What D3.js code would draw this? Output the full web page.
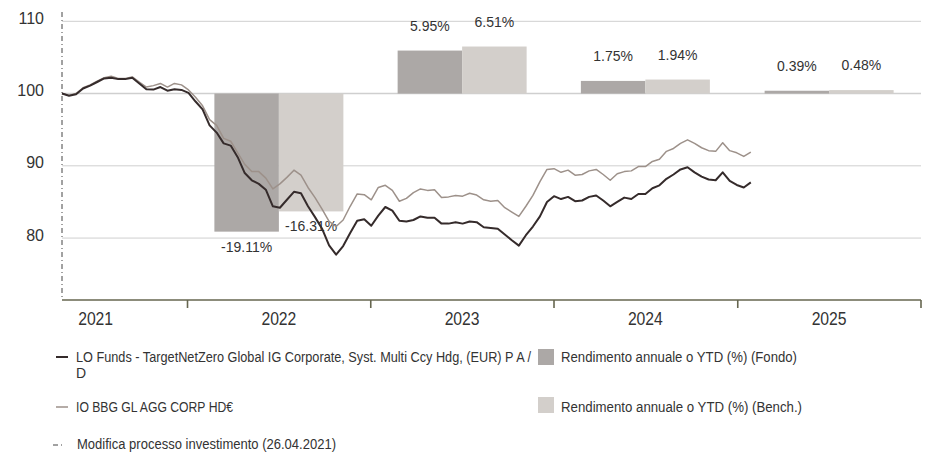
<!DOCTYPE html>
<meta charset="utf-8">
<style>
body { margin: 0; background: #fff; }
svg { display: block; }
text { font-family: "Liberation Sans", Arial, sans-serif; fill: #333; }
.ylab text { font-size: 16px; }
.grid line { stroke: #cfcfcf; stroke-width: 1; }
.xaxis line { stroke: #66664f; stroke-width: 1.6; }
.years text { font-size: 18px; }
.barlab text { font-size: 14px; }
.legend text { font-size: 14px; }
</style>
<body>
<script src="https://cdn.jsdelivr.net/npm/d3@7"></script>
<script>
// serie bisettimanali (base 100 al 26.04.2021)
var dates = [
  '2021-04-26','2021-05-10','2021-05-24','2021-06-07','2021-06-21','2021-07-05','2021-07-19','2021-08-02','2021-08-16','2021-08-30',
  '2021-09-13','2021-09-27','2021-10-11','2021-10-25','2021-11-08','2021-11-22','2021-12-06','2021-12-20','2022-01-03','2022-01-17',
  '2022-01-31','2022-02-14','2022-02-28','2022-03-14','2022-03-28','2022-04-11','2022-04-25','2022-05-09','2022-05-23','2022-06-06',
  '2022-06-20','2022-07-04','2022-07-18','2022-08-01','2022-08-15','2022-08-29','2022-09-12','2022-09-26','2022-10-10','2022-10-24',
  '2022-11-07','2022-11-21','2022-12-05','2022-12-19','2023-01-02','2023-01-16','2023-01-30','2023-02-13','2023-02-27','2023-03-13',
  '2023-03-27','2023-04-10','2023-04-24','2023-05-08','2023-05-22','2023-06-05','2023-06-19','2023-07-03','2023-07-17','2023-07-31',
  '2023-08-14','2023-08-28','2023-09-11','2023-09-25','2023-10-09','2023-10-23','2023-11-06','2023-11-20','2023-12-04','2023-12-18',
  '2024-01-01','2024-01-15','2024-01-29','2024-02-12','2024-02-26','2024-03-11','2024-03-25','2024-04-08','2024-04-22','2024-05-06',
  '2024-05-20','2024-06-03','2024-06-17','2024-07-01','2024-07-15','2024-07-29','2024-08-12','2024-08-26','2024-09-09','2024-09-23',
  '2024-10-07','2024-10-21','2024-11-04','2024-11-18','2024-12-02','2024-12-16','2024-12-30','2025-01-13','2025-01-27'
]

var fondo = [
  100.0, 99.7, 99.9, 100.7, 101.1, 101.6, 102.1, 102.2, 102.0, 102.0,
  102.2, 101.4, 100.6, 100.55, 100.9, 100.4, 100.6, 100.5, 100.1, 98.9,
  97.8, 95.6, 94.6, 93.1, 92.8, 91.2, 89.0, 88.0, 87.5, 86.7,
  84.4, 84.2, 85.3, 86.4, 86.2, 84.4, 82.9, 81.3, 79.0, 77.7,
  78.9, 80.7, 82.4, 82.6, 81.7, 83.1, 84.3, 83.8, 82.4, 82.3,
  82.5, 83.0, 82.8, 82.8, 82.0, 82.0, 82.2, 82.0, 82.3, 82.2,
  81.5, 81.4, 81.3, 80.5, 79.7, 78.95, 80.4, 81.6, 83.0, 85.0,
  85.8, 85.4, 85.7, 85.1, 85.2, 85.7, 85.9, 85.2, 84.4, 85.0,
  85.6, 85.4, 86.1, 86.1, 86.9, 87.3, 88.2, 88.8, 89.5, 89.8,
  89.1, 88.5, 88.1, 88.0, 89.1, 87.9, 87.35, 87.0, 87.7
]

var bench = [
  100.0, 99.75, 100.0, 100.8, 101.2, 101.7, 102.2, 102.4, 102.1, 102.1,
  102.3, 101.6, 100.9, 101.1, 101.4, 100.9, 101.4, 101.2, 100.5, 99.5,
  98.3, 96.4, 95.6, 93.8, 93.4, 91.8, 90.2, 89.2, 89.2, 88.3,
  86.8, 87.5, 88.4, 89.4, 88.7, 87.0, 85.6, 84.0, 82.3, 81.6,
  82.5, 84.4, 86.1, 86.0, 85.3, 87.0, 87.3, 86.6, 85.1, 85.5,
  86.3, 86.8, 86.6, 86.7, 85.6, 85.7, 85.9, 85.8, 86.2, 85.95,
  85.3, 85.1, 85.2, 84.2, 83.6, 83.0, 84.4, 85.9, 87.8, 89.5,
  89.6, 89.1, 89.4, 88.7, 88.8, 89.3, 89.5, 88.8, 88.0, 88.9,
  89.2, 89.3, 89.9, 89.9, 90.6, 90.9, 92.0, 92.4, 93.1, 93.6,
  93.1, 92.5, 92.1, 92.0, 93.2, 92.1, 91.8, 91.3, 91.9
]

// rendimenti annuali / YTD (%)
var barYears = [2022, 2023, 2024, 2025]
var barFondo = [-19.11, 5.95, 1.75, 0.39]
var barBench = [-16.31, 6.51, 1.94, 0.48]

var yTicks = [80, 90, 100, 110]
var yearLabels = [2021, 2022, 2023, 2024, 2025]

var width = 927
var height = 452

var parse = d3.utcParse('%Y-%m-%d')
var x = d3.scaleUtc()
    .domain([parse('2021-04-26'), parse('2026-01-01')])
    .range([62, 921])
var y = d3.scaleLinear()
    .domain([71.43, 110])
    .range([300, 21.3])

function midYear(yr) { return d3.utcDay.offset(new Date(Date.UTC(yr, 0, 1)), 182) }

var svg = d3.select('body').append('svg')
    .attr('width', width)
    .attr('height', height)

// griglia
svg.append('g').attr('class', 'grid')
    .selectAll('line')
    .data(yTicks)
    .enter().append('line')
    .attr('x1', 62).attr('x2', 921)
    .attr('y1', function (d) { return y(d) })
    .attr('y2', function (d) { return y(d) })
    .style('stroke-width', function (d) { return d === 100 ? 1.6 : 1 })

svg.append('g').attr('class', 'ylab')
    .selectAll('text')
    .data(yTicks)
    .enter().append('text')
    .attr('x', 44)
    .attr('y', function (d) { return y(d) + 2.5 })
    .attr('text-anchor', 'end')
    .text(function (d) { return d })

// barre rendimento
var barW = 64.5
var bars = svg.append('g').attr('class', 'bars')
var barLab = svg.append('g').attr('class', 'barlab')

function drawBars(values, side, color) {
    bars.selectAll(null)
        .data(values)
        .enter().append('rect')
        .attr('x', function (d, i) { return x(midYear(barYears[i])) + (side < 0 ? -barW : 0) })
        .attr('width', barW)
        .attr('y', function (d) { return y(Math.max(100, 100 + d)) })
        .attr('height', function (d) { return Math.abs(y(100 + d) - y(100)) })
        .attr('fill', color)

    barLab.selectAll(null)
        .data(values)
        .enter().append('text')
        .attr('x', function (d, i) { return x(midYear(barYears[i])) + side * barW / 2 })
        .attr('y', function (d) { return d >= 0 ? y(100 + d) - 20 : y(100 + d) + 20 })
        .attr('text-anchor', 'middle')
        .text(function (d) { return d.toFixed(2) + '%' })
}
drawBars(barFondo, -1, '#aca8a6')
drawBars(barBench, 1, '#d3cfcb')

// linea modifica processo investimento
svg.append('line')
    .attr('x1', x(parse('2021-04-26'))).attr('x2', x(parse('2021-04-26')))
    .attr('y1', 12).attr('y2', 300)
    .attr('stroke', '#444')
    .attr('stroke-dasharray', '5,3,1,3')

// asse x
var xa = svg.append('g').attr('class', 'xaxis')
xa.append('line')
    .attr('x1', 62).attr('x2', 921)
    .attr('y1', 300).attr('y2', 300)
xa.selectAll('.tick')
    .data(d3.utcYear.range(parse('2022-01-01'), parse('2026-01-02')))
    .enter().append('line')
    .attr('x1', function (d) { return x(d) }).attr('x2', function (d) { return x(d) })
    .attr('y1', 300).attr('y2', 308)

svg.append('g').attr('class', 'years')
    .selectAll('text')
    .data(yearLabels)
    .enter().append('text')
    .attr('x', function (d) { return x(midYear(d)) })
    .attr('y', 325)
    .attr('text-anchor', 'middle')
    .attr('textLength', 35)
    .attr('lengthAdjust', 'spacingAndGlyphs')
    .text(function (d) { return d })

// linee
var line = d3.line()
    .x(function (d, i) { return x(parse(dates[i])) })
    .y(function (d) { return y(d) })

svg.append('path')
    .datum(bench)
    .attr('fill', 'none')
    .attr('stroke', '#9d918a')
    .attr('stroke-width', 1.5)
    .attr('stroke-linejoin', 'round')
    .attr('d', line)

svg.append('path')
    .datum(fondo)
    .attr('fill', 'none')
    .attr('stroke', '#352b2b')
    .attr('stroke-width', 2)
    .attr('stroke-linejoin', 'round')
    .attr('d', line)

// legenda (testo condensato come nell'originale)
var lg = svg.append('g').attr('class', 'legend')

function legText(tx, ty, str, len) {
    var t = lg.append('text').attr('x', tx).attr('y', ty).text(str)
    if (len) t.attr('textLength', len).attr('lengthAdjust', 'spacingAndGlyphs')
}

lg.append('line').attr('x1', 56).attr('x2', 68).attr('y1', 357).attr('y2', 357)
    .attr('stroke', '#352b2b').attr('stroke-width', 2)
legText(76, 362, 'LO Funds - TargetNetZero Global IG Corporate, Syst. Multi Ccy Hdg, (EUR) P A /', 455)
legText(76, 378, 'D')

lg.append('line').attr('x1', 56).attr('x2', 68).attr('y1', 407).attr('y2', 407)
    .attr('stroke', '#9d918a').attr('stroke-width', 1.5)
legText(76, 412, 'IO BBG GL AGG CORP HD€', 157)

lg.append('line').attr('x1', 53).attr('x2', 64).attr('y1', 445).attr('y2', 445)
    .attr('stroke', '#444').attr('stroke-dasharray', '5,3,1,3')
legText(77, 449, 'Modifica processo investimento (26.04.2021)', 259)

lg.append('rect').attr('x', 538).attr('y', 349).attr('width', 16).attr('height', 16).attr('fill', '#aca8a6')
legText(561, 362, 'Rendimento annuale o YTD (%) (Fondo)', 236)

lg.append('rect').attr('x', 538).attr('y', 397).attr('width', 16).attr('height', 16).attr('fill', '#d3cfcb')
legText(561, 412, 'Rendimento annuale o YTD (%) (Bench.)', 241)
</script>
</body>
